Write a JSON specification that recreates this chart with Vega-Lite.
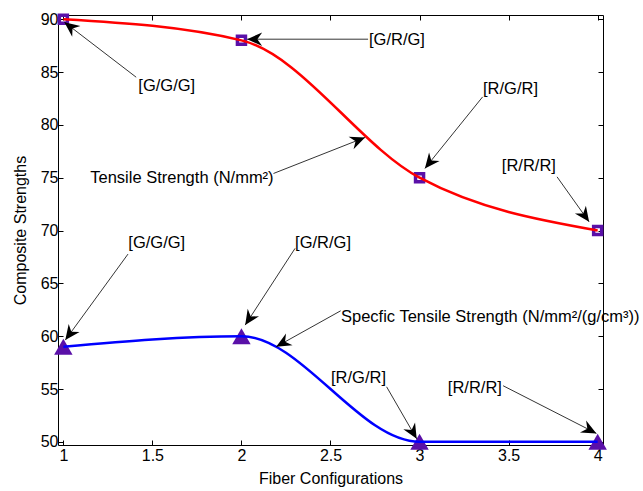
{
  "$schema": "https://vega.github.io/schema/vega-lite/v6.json",
  "width": 545,
  "height": 430,
  "autosize": {"type": "none"},
  "padding": {"left": 58, "top": 15, "right": 40, "bottom": 46},
  "background": "white",
  "config": {
    "font": "Liberation Sans",
    "view": {"stroke": "black", "strokeWidth": 1},
    "axis": {
      "domain": false,
      "grid": false,
      "tickSize": -5,
      "tickColor": "black",
      "tickWidth": 1,
      "labelColor": "black",
      "labelFont": "Liberation Sans",
      "labelFontSize": 16,
      "titleFont": "Liberation Sans",
      "titleFontSize": 16,
      "titleFontWeight": "normal",
      "titleColor": "black"
    }
  },
  "datasets": {
    "tensile": [
      {"config": 1, "strength": 90},
      {"config": 2, "strength": 88},
      {"config": 3, "strength": 75},
      {"config": 4, "strength": 70}
    ],
    "specific": [
      {"config": 1, "strength": 59},
      {"config": 2, "strength": 60},
      {"config": 3, "strength": 50},
      {"config": 4, "strength": 50}
    ],
    "notes": [
      {"label": "[G/G/G]", "tx": 1.409, "ty": 84.51, "hx": 1.006, "hy": 89.72, "lx": 1.421, "ly": 83.66},
      {"label": "[G/R/G]", "tx": 2.711, "ty": 88.11, "hx": 2.032, "hy": 88.11, "lx": 2.716, "ly": 88.08},
      {"label": "[R/G/R]", "tx": 3.354, "ty": 82.65, "hx": 3.030, "hy": 75.88, "lx": 3.356, "ly": 83.44},
      {"label": "[R/R/R]", "tx": 3.772, "ty": 75.08, "hx": 3.952, "hy": 70.82, "lx": 3.462, "ly": 76.09},
      {"label": "Tensile Strength (N/mm²)", "tx": 2.180, "ty": 75.40, "hx": 2.694, "hy": 78.81, "lx": 1.151, "ly": 74.99},
      {"label": "[G/G/G]", "tx": 1.363, "ty": 67.77, "hx": 1.011, "hy": 59.63, "lx": 1.365, "ly": 68.81},
      {"label": "[G/R/G]", "tx": 2.301, "ty": 68.31, "hx": 2.021, "hy": 61.05, "lx": 2.301, "ly": 68.81},
      {"label": "Specfic Tensile Strength (N/mm²/(g/cm³))", "tx": 2.557, "ty": 62.40, "hx": 2.195, "hy": 59.00, "lx": 2.559, "ly": 61.81},
      {"label": "[R/G/R]", "tx": 2.815, "ty": 55.21, "hx": 2.984, "hy": 50.28, "lx": 2.503, "ly": 56.04},
      {"label": "[R/R/R]", "tx": 3.469, "ty": 55.31, "hx": 3.993, "hy": 50.80, "lx": 3.159, "ly": 55.14}
    ]
  },
  "layer": [
    {
      "data": {"name": "tensile"},
      "mark": {"type": "point", "shape": "square", "filled": false, "stroke": "#5a10a8", "strokeWidth": 3.5, "size": 64, "opacity": 1},
      "encoding": {
        "x": {"field": "config", "type": "quantitative", "scale": {"domain": [0.97, 4.03], "nice": false, "zero": false},
              "axis": {"orient": "bottom", "values": [1, 1.5, 2, 2.5, 3, 3.5, 4], "format": "~g", "labelPadding": 7, "title": "Fiber Configurations", "titlePadding": 7, "labelFlush": false}},
        "y": {"field": "strength", "type": "quantitative", "scale": {"domain": [49.7, 90.4], "nice": false, "zero": false},
              "axis": {"orient": "left", "values": [50, 55, 60, 65, 70, 75, 80, 85, 90], "format": "~g", "labelPadding": 5, "title": "Composite Strengths", "titlePadding": 12, "labelFlush": false}}
      }
    },
    {
      "data": {"name": "specific"},
      "mark": {"type": "point", "shape": "triangle-up", "filled": true, "color": "#5a10a8", "size": 340, "opacity": 1},
      "encoding": {
        "x": {"field": "config", "type": "quantitative", "scale": {"domain": [0.97, 4.03], "nice": false, "zero": false}, "axis": null},
        "y": {"field": "strength", "type": "quantitative", "scale": {"domain": [49.7, 90.4], "nice": false, "zero": false}, "axis": null}
      }
    },
    {
      "data": {"name": "tensile"},
      "mark": {"type": "line", "interpolate": "monotone", "color": "#ff0000", "strokeWidth": 2.5},
      "encoding": {
        "x": {"field": "config", "type": "quantitative", "scale": {"domain": [0.97, 4.03], "nice": false, "zero": false},
              "axis": {"orient": "top", "values": [1, 1.5, 2, 2.5, 3, 3.5, 4], "labels": false, "title": null}},
        "y": {"field": "strength", "type": "quantitative", "scale": {"domain": [49.7, 90.4], "nice": false, "zero": false},
              "axis": {"orient": "right", "values": [50, 55, 60, 65, 70, 75, 80, 85, 90], "labels": false, "title": null}}
      }
    },
    {
      "data": {"name": "specific"},
      "mark": {"type": "line", "interpolate": "monotone", "color": "#0000ff", "strokeWidth": 2.5},
      "encoding": {
        "x": {"field": "config", "type": "quantitative", "scale": {"domain": [0.97, 4.03], "nice": false, "zero": false}, "axis": null},
        "y": {"field": "strength", "type": "quantitative", "scale": {"domain": [49.7, 90.4], "nice": false, "zero": false}, "axis": null}
      }
    },
    {
      "data": {"name": "notes"},
      "mark": {"type": "rule", "color": "black", "strokeWidth": 0.8},
      "encoding": {
        "x": {"field": "tx", "type": "quantitative", "scale": {"domain": [0.97, 4.03], "nice": false, "zero": false}, "axis": null},
        "y": {"field": "ty", "type": "quantitative", "scale": {"domain": [49.7, 90.4], "nice": false, "zero": false}, "axis": null},
        "x2": {"field": "hx"},
        "y2": {"field": "hy"}
      }
    },
    {
      "data": {"name": "notes"},
      "transform": [
        {"calculate": "atan2((datum.hx - datum.tx) * 178.1, (datum.hy - datum.ty) * 10.565) * 180 / PI", "as": "ang"}
      ],
      "mark": {"type": "point", "shape": "M0,0 L0.45,1 L0,0.68 L-0.45,1 Z", "filled": true, "color": "black", "size": 900, "opacity": 1, "strokeWidth": 0},
      "encoding": {
        "x": {"field": "hx", "type": "quantitative", "scale": {"domain": [0.97, 4.03], "nice": false, "zero": false}, "axis": null},
        "y": {"field": "hy", "type": "quantitative", "scale": {"domain": [49.7, 90.4], "nice": false, "zero": false}, "axis": null},
        "angle": {"field": "ang", "type": "quantitative", "scale": null}
      }
    },
    {
      "data": {"name": "notes"},
      "mark": {"type": "text", "align": "left", "baseline": "middle", "font": "Liberation Sans", "fontSize": 16.5, "color": "black"},
      "encoding": {
        "x": {"field": "lx", "type": "quantitative", "scale": {"domain": [0.97, 4.03], "nice": false, "zero": false}, "axis": null},
        "y": {"field": "ly", "type": "quantitative", "scale": {"domain": [49.7, 90.4], "nice": false, "zero": false}, "axis": null},
        "text": {"field": "label"}
      }
    }
  ],
  "resolve": {"axis": {"x": "independent", "y": "independent"}}
}
